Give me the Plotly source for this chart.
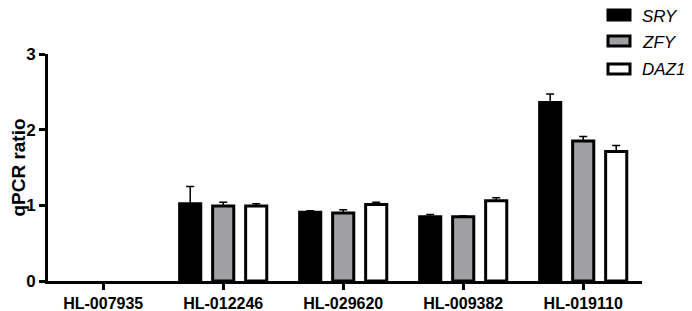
import plotly.graph_objects as go

categories = ["HL-007935", "HL-012246", "HL-029620", "HL-009382", "HL-019110"]
series_names = ["SRY", "ZFY", "DAZ1"]
sry = [0, 1.02, 0.91, 0.85, 2.36]
sry_err = [0, 0.23, 0.02, 0.03, 0.11]
zfy = [0, 0.99, 0.90, 0.85, 1.85]
zfy_err = [0, 0.05, 0.04, 0.01, 0.06]
daz1 = [0, 0.99, 1.01, 1.06, 1.71]
daz1_err = [0, 0.03, 0.03, 0.04, 0.08]
y_ticks = [0, 1, 2, 3]

values = [sry, zfy, daz1]
errors = [sry_err, zfy_err, daz1_err]
fills = ["#000000", "#a0a0a4", "#ffffff"]
FONT = "Arial, Liberation Sans, sans-serif"

# page body has an 8px default margin; figure is sized/positioned to compensate
OFF = 8
W, H = 692 - OFF, 311 - OFF
L, T = 48 - OFF, 54 - OFF
R, B = W - (642 - OFF), H - (281 - OFF)
PW, PH = W - L - R, H - T - B

fig = go.Figure()
for name, v, e, c in zip(series_names, values, errors, fills):
    fig.add_trace(go.Bar(
        x=categories,
        y=[val if val != 0 else None for val in v],  # zero bars are not visible in the reference
        name=name,
        marker=dict(color=c, line=dict(color="#000000", width=3)),
        error_y=dict(type="data", array=e, arrayminus=[0] * len(e), symmetric=False,
                     color="#000000", thickness=1.5, width=4),
        showlegend=False,
    ))

# manual legend (wide swatches like the reference), ref-pixel positions
leg_y = [15, 41, 69]
for i, (name, c) in enumerate(zip(series_names, fills)):
    y = leg_y[i] - OFF
    fig.add_shape(type="rect", xref="paper", yref="paper",
                  x0=(608 - OFF - L) / PW, x1=(630 - OFF - L) / PW,
                  y0=(H - B - (y + 5)) / PH, y1=(H - B - (y - 5)) / PH,
                  fillcolor=c, line=dict(color="#000000", width=3))
    fig.add_annotation(xref="paper", yref="paper",
                       x=(641 - OFF - L) / PW, y=(H - B - y) / PH,
                       text="<i>" + name + "</i>", showarrow=False,
                       xanchor="left", yanchor="middle", borderpad=0, yshift=-1,
                       font=dict(family=FONT, size=17, color="#000000"))

fig.update_layout(
    width=W, height=H,
    margin=dict(l=L, r=R, t=T, b=B, autoexpand=False),
    paper_bgcolor="white", plot_bgcolor="white",
    barmode="group", bargap=0.175, bargroupgap=0.36,
    font=dict(family=FONT, color="#000000"),
)
fig.update_xaxes(
    range=[-0.46, 4.49], showline=True, linewidth=3, linecolor="#000000",
    ticks="outside", ticklen=6, tickwidth=3, tickcolor="#000000",
    tickfont=dict(family=FONT, size=16, color="#000000", weight="bold"),
    showgrid=False, zeroline=False, automargin=False,
)
fig.update_yaxes(
    range=[0, 3], tickvals=y_ticks, showline=True, linewidth=3, linecolor="#000000",
    ticks="outside", ticklen=6, tickwidth=3, tickcolor="#000000",
    tickfont=dict(family=FONT, size=17, color="#000000", weight="bold"),
    title=dict(text="<b>qPCR ratio</b>", font=dict(family=FONT, size=19, color="#000000"), standoff=3),
    showgrid=False, zeroline=False, automargin=False,
)

fig.write_html("out.html")
